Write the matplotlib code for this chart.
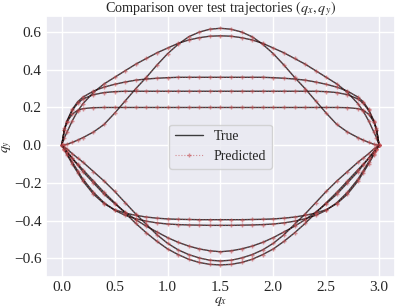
import matplotlib
matplotlib.use("Agg")
import matplotlib.pyplot as plt
import seaborn as sns

# sample positions along q_x (shared by all arcs)
qx = [0, 0.025, 0.05, 0.1, 0.15, 0.2, 0.3, 0.4, 0.5, 0.6, 0.7, 0.8, 0.9, 1.0, 1.1, 1.2, 1.3, 1.4, 1.5,
      1.6, 1.7, 1.8, 1.9, 2.0, 2.1, 2.2, 2.3, 2.4, 2.5, 2.6, 2.7, 2.8, 2.85, 2.9, 2.95, 2.975, 3.0]

# upper arcs (q_y >= 0)
qy_a = [0, 0.002, 0.005, 0.015, 0.027, 0.04, 0.07, 0.11, 0.17, 0.235, 0.30, 0.36, 0.425, 0.485, 0.535, 0.575, 0.60, 0.615, 0.62,
        0.615, 0.60, 0.575, 0.535, 0.485, 0.425, 0.36, 0.30, 0.235, 0.17, 0.11, 0.07, 0.04, 0.027, 0.015, 0.005, 0.002, 0]
qy_b = [0, 0.04, 0.07, 0.13, 0.18, 0.22, 0.28, 0.325, 0.36, 0.395, 0.43, 0.46, 0.49, 0.515, 0.54, 0.558, 0.57, 0.578, 0.58,
        0.578, 0.57, 0.558, 0.54, 0.515, 0.49, 0.46, 0.43, 0.395, 0.36, 0.325, 0.28, 0.22, 0.18, 0.13, 0.07, 0.04, 0]
qy_c = [0, 0.08, 0.13, 0.19, 0.23, 0.255, 0.287, 0.308, 0.323, 0.335, 0.345, 0.351, 0.355, 0.358, 0.36, 0.36, 0.36, 0.36, 0.36,
        0.36, 0.36, 0.36, 0.36, 0.358, 0.355, 0.351, 0.345, 0.335, 0.323, 0.308, 0.287, 0.255, 0.23, 0.19, 0.13, 0.08, 0]
qy_d = [0, 0.08, 0.125, 0.185, 0.222, 0.245, 0.268, 0.279, 0.284, 0.286, 0.286, 0.286, 0.286, 0.286, 0.286, 0.286, 0.286, 0.286, 0.286,
        0.286, 0.286, 0.286, 0.286, 0.286, 0.286, 0.286, 0.286, 0.286, 0.284, 0.279, 0.268, 0.245, 0.222, 0.185, 0.125, 0.08, 0]
qy_e = [0, 0.09, 0.125, 0.165, 0.185, 0.194, 0.199, 0.2, 0.2, 0.2, 0.2, 0.2, 0.2, 0.2, 0.2, 0.2, 0.2, 0.2, 0.2,
        0.2, 0.2, 0.2, 0.2, 0.2, 0.2, 0.2, 0.2, 0.2, 0.2, 0.2, 0.199, 0.194, 0.185, 0.165, 0.125, 0.09, 0]

# lower arcs (q_y <= 0)
qy_f = [0, -0.025, -0.05, -0.1, -0.145, -0.19, -0.26, -0.31, -0.342, -0.36, -0.372, -0.381, -0.387, -0.391, -0.393, -0.394, -0.395, -0.395, -0.395,
        -0.395, -0.395, -0.394, -0.393, -0.391, -0.387, -0.381, -0.372, -0.36, -0.342, -0.31, -0.26, -0.19, -0.145, -0.1, -0.05, -0.025, 0]
qy_g = [0, -0.02, -0.045, -0.09, -0.135, -0.18, -0.25, -0.305, -0.345, -0.372, -0.39, -0.403, -0.412, -0.418, -0.421, -0.423, -0.424, -0.425, -0.425,
        -0.425, -0.424, -0.423, -0.421, -0.418, -0.412, -0.403, -0.39, -0.372, -0.345, -0.305, -0.25, -0.18, -0.135, -0.09, -0.045, -0.02, 0]
qy_h = [0, -0.018, -0.035, -0.07, -0.105, -0.14, -0.2, -0.26, -0.31, -0.355, -0.395, -0.43, -0.46, -0.49, -0.515, -0.535, -0.55, -0.56, -0.565,
        -0.56, -0.55, -0.535, -0.515, -0.49, -0.46, -0.43, -0.395, -0.355, -0.31, -0.26, -0.2, -0.14, -0.105, -0.07, -0.035, -0.018, 0]
qy_i = [0, -0.01, -0.02, -0.045, -0.068, -0.09, -0.14, -0.19, -0.245, -0.305, -0.365, -0.42, -0.475, -0.52, -0.555, -0.58, -0.598, -0.61, -0.614,
        -0.61, -0.598, -0.58, -0.555, -0.52, -0.475, -0.42, -0.365, -0.305, -0.245, -0.19, -0.14, -0.09, -0.068, -0.045, -0.02, -0.01, 0]
qy_j = [0, -0.018, -0.035, -0.07, -0.1, -0.13, -0.19, -0.25, -0.305, -0.36, -0.415, -0.465, -0.51, -0.55, -0.58, -0.605, -0.622, -0.632, -0.635,
        -0.632, -0.622, -0.605, -0.58, -0.55, -0.51, -0.465, -0.415, -0.36, -0.305, -0.25, -0.19, -0.13, -0.1, -0.07, -0.035, -0.018, 0]

arcs = [qy_a, qy_b, qy_c, qy_d, qy_e, qy_f, qy_g, qy_h, qy_i, qy_j]

sns.set_theme(style="darkgrid")
plt.rcParams["font.family"] = ["Liberation Serif", "DejaVu Serif"]
plt.rcParams["mathtext.fontset"] = "stix"

fig, ax = plt.subplots(figsize=(3.99, 3.08), dpi=100)
fig.subplots_adjust(left=0.115, right=0.99, top=0.948, bottom=0.10)

for k, qy in enumerate(arcs):
    ax.plot(qx, qy, color="black", lw=1.0, alpha=0.75, label="True" if k == 0 else None)
    ax.plot(qx, qy, "r+:", ms=3, lw=0.8, alpha=0.6, label="Predicted" if k == 0 else None)

ax.set_title("Comparison over test trajectories $(q_x, q_y)$", fontsize=10.2, pad=3)
ax.set_xlabel("$q_x$", fontsize=10)
ax.set_ylabel("$q_y$", fontsize=10)
ax.xaxis.set_label_coords(0.5, -0.07)
ax.yaxis.set_label_coords(-0.092, 0.5)
ax.tick_params(labelsize=11, length=0, pad=3)
ax.set_xticks([0.0, 0.5, 1.0, 1.5, 2.0, 2.5, 3.0])
ax.set_yticks([-0.6, -0.4, -0.2, 0.0, 0.2, 0.4, 0.6])
ax.set_ylim(-0.70, 0.685)
ax.legend(loc="center", fontsize=10)

plt.savefig("out.png", dpi=100)
